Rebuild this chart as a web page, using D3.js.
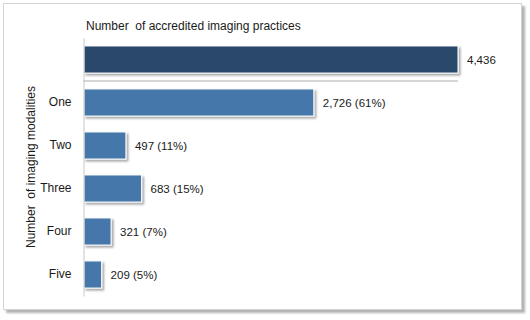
<!DOCTYPE html>
<html>
<head>
<meta charset="utf-8">
<script src="https://cdn.jsdelivr.net/npm/d3@7"></script>
<style>
  body { margin: 0; background: #fff; }
  text { font-family: "Liberation Sans", Arial, sans-serif; fill: #1a1a1a; }
</style>
</head>
<body>
<div id="chart"></div>
<script>
var svgWidth = 530;
var svgHeight = 320;

// data
var categories = ["One", "Two", "Three", "Four", "Five"];
var values = [2726, 497, 683, 321, 209];
var totalLabel = "All";
var totalValue = 4436;

var rows = [totalLabel].concat(categories);
var rowValues = [totalValue].concat(values);
var fmt = d3.format(",");

var svg = d3.select("#chart")
    .append("svg")
    .attr("width", svgWidth)
    .attr("height", svgHeight);

// drop shadows for frame and bars
var defs = svg.append("defs");
defs.append("filter").attr("id", "frameShadow")
    .attr("x", "-5%").attr("y", "-5%").attr("width", "110%").attr("height", "110%")
    .append("feDropShadow")
    .attr("dx", 3).attr("dy", 3).attr("stdDeviation", 1.2)
    .attr("flood-color", "#000").attr("flood-opacity", 0.3);
defs.append("filter").attr("id", "barShadow")
    .attr("x", "-10%").attr("y", "-20%").attr("width", "130%").attr("height", "160%")
    .append("feDropShadow")
    .attr("dx", 2).attr("dy", 2).attr("stdDeviation", 1.2)
    .attr("flood-color", "#000").attr("flood-opacity", 0.35);

// outer frame
svg.append("rect")
    .attr("x", 3.5).attr("y", 3.5)
    .attr("width", 518).attr("height", 306)
    .attr("fill", "#fff")
    .attr("stroke", "#d4d4d4")
    .attr("filter", "url(#frameShadow)");

// scales
var x = d3.scaleLinear()
    .domain([0, totalValue])
    .range([84, 458]);

var y = d3.scaleBand()
    .domain(rows)
    .range([38, 296])
    .paddingInner(0.37)
    .paddingOuter(0.185);

// bars
svg.selectAll("rect.bar")
    .data(rows)
    .enter()
    .append("rect")
    .attr("class", "bar")
    .attr("x", x(0))
    .attr("y", d => y(d))
    .attr("width", (d, i) => x(rowValues[i]) - x(0))
    .attr("height", y.bandwidth())
    .attr("fill", (d, i) => i === 0 ? "#2a4a6a" : "#4577aa")
    .attr("stroke", "#fff")
    .attr("stroke-width", 1)
    .attr("filter", "url(#barShadow)");

// separator between the total and the breakdown
var sepY = y(categories[0]) - y.step() * y.paddingInner() / 2;
svg.append("line")
    .attr("x1", x(0) - 1).attr("x2", x(totalValue))
    .attr("y1", sepY).attr("y2", sepY)
    .attr("stroke", "#c8c8c8")
    .attr("stroke-width", 1.5);

// category axis
var leftAxis = d3.axisLeft(y)
    .tickSizeInner(0)
    .tickSizeOuter(0)
    .tickPadding(12)
    .tickFormat(d => d === totalLabel ? "" : d);

var axisG = svg.append("g")
    .attr("transform", "translate(83.5,0)")
    .call(leftAxis);
axisG.select(".domain").attr("stroke", "#c8c8c8").attr("stroke-width", 1);
axisG.selectAll("text")
    .style("font-family", "'Liberation Sans', Arial, sans-serif")
    .style("font-size", "12px")
    .attr("fill", "#1a1a1a");

// value labels
svg.selectAll("text.val")
    .data(rows)
    .enter()
    .append("text")
    .attr("class", "val")
    .attr("x", (d, i) => x(rowValues[i]) + 9)
    .attr("y", d => y(d) + y.bandwidth() / 2)
    .attr("dy", "0.35em")
    .style("font-size", "11.5px")
    .text((d, i) => i === 0 ? fmt(rowValues[i])
        : fmt(rowValues[i]) + " (" + Math.round(rowValues[i] / totalValue * 100) + "%)");

// titles (keep the double space as in the original)
svg.append("text")
    .attr("x", 86)
    .attr("y", 30)
    .style("font-size", "12px")
    .style("white-space", "pre")
    .text("Number  of accredited imaging practices");

svg.append("text")
    .attr("transform", "translate(35,167) rotate(-90)")
    .attr("text-anchor", "middle")
    .style("font-size", "12px")
    .style("white-space", "pre")
    .text("Number  of imaging modalities");
</script>
</body>
</html>
